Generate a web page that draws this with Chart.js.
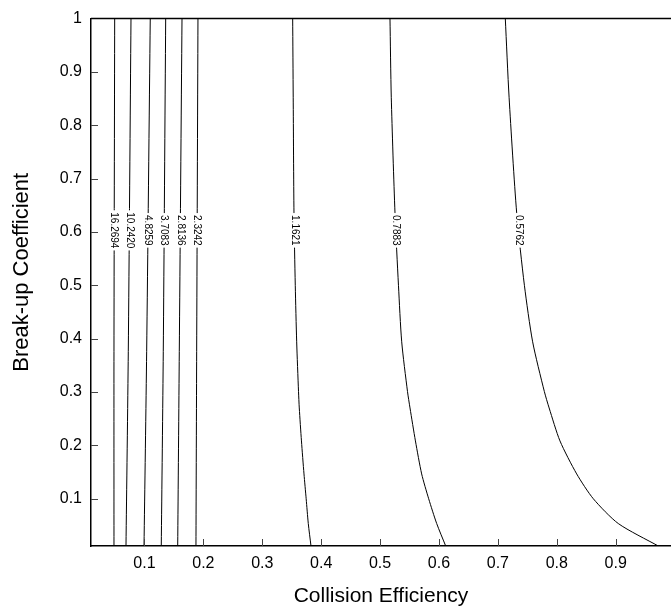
<!DOCTYPE html>
<html>
<head>
<meta charset="utf-8">
<script src="https://cdn.jsdelivr.net/npm/chart.js@4.4.0/dist/chart.umd.min.js"></script>
<style>
html,body{margin:0;padding:0;background:#fff;}
#wrap{width:671px;height:609px;position:relative;}
</style>
</head>
<body>
<div id="wrap"><canvas id="c" width="671" height="609"></canvas></div>
<script>
// Tick labels
const xTicks = [0.1, 0.2, 0.3, 0.4, 0.5, 0.6, 0.7, 0.8, 0.9];
const yTicks = [0.1, 0.2, 0.3, 0.4, 0.5, 0.6, 0.7, 0.8, 0.9, 1];

// Axis titles
const xTitle = 'Collision Efficiency';
const yTitle = 'Break-up Coefficient';

// Contour levels (labels)
const levels = ['16.2694', '10.2420', '4.8259', '3.7083', '2.8136', '2.3242', '1.1621', '0.7883', '0.5762'];

// Nearly straight contours: shared y samples
const yStraight = [0.0112, 0.3755, 1.0];
const x16_2694 = [0.0482, 0.0482, 0.0494];
const x10_2420 = [0.0686, 0.0725, 0.0771];
const x4_8259  = [0.0992, 0.1037, 0.1098];
const x3_7083  = [0.1285, 0.1319, 0.1360];
const x2_8136  = [0.1564, 0.1591, 0.1637];
const x2_3242  = [0.1874, 0.1886, 0.1908];

// Curved contours: shared y samples
const yCurve   = [0.0112, 0.0533, 0.0998, 0.1463, 0.2082, 0.2700, 0.3011, 0.3940, 0.5000, 0.6357, 0.8526, 1.0];
const x1_1621  = [0.3827, 0.3781, 0.3745, 0.3708, 0.3665, 0.3628, 0.3615, 0.3584, 0.3560, 0.3538, 0.3525, 0.3516];
const x0_7883  = [0.6114, 0.5961, 0.5825, 0.5706, 0.5600, 0.5508, 0.5465, 0.5367, 0.5312, 0.5253, 0.5190, 0.5168];
const x0_5762  = [0.9723, 0.9044, 0.8620, 0.8338, 0.8054, 0.7870, 0.7788, 0.7590, 0.7450, 0.7319, 0.7190, 0.7126];

const labelY = 0.603;

const contourXs = [x16_2694, x10_2420, x4_8259, x3_7083, x2_8136, x2_3242, x1_1621, x0_7883, x0_5762];
const contourYs = [yStraight, yStraight, yStraight, yStraight, yStraight, yStraight, yCurve, yCurve, yCurve];

const FONT = '"Liberation Sans", Arial, sans-serif';

const datasets = contourXs.map((xs, i) => ({
  label: levels[i],
  data: xs.map((x, j) => ({x: x, y: contourYs[i][j]})),
  showLine: true,
  borderColor: '#000',
  borderWidth: 1,
  pointRadius: 0,
  tension: 0.25,
  fill: false
}));

function xAtY(xs, ys, y) {
  for (let j = 0; j < ys.length - 1; j++) {
    if (y >= ys[j] && y <= ys[j + 1]) {
      const t = (y - ys[j]) / (ys[j + 1] - ys[j]);
      return xs[j] + t * (xs[j + 1] - xs[j]);
    }
  }
  return xs[xs.length - 1];
}

const decor = {
  id: 'decor',
  afterDatasetsDraw(chart) {
    const ctx = chart.ctx;
    const xs = chart.scales.x, ys = chart.scales.y;
    const a = chart.chartArea;
    ctx.save();
    // contour labels
    ctx.font = '10px ' + FONT;
    ctx.textAlign = 'center';
    ctx.textBaseline = 'middle';
    levels.forEach((lab, i) => {
      const xv = xAtY(contourXs[i], contourYs[i], labelY);
      const px = xs.getPixelForValue(xv);
      const py = ys.getPixelForValue(labelY);
      const w = ctx.measureText(lab).width;
      ctx.fillStyle = '#fff';
      ctx.fillRect(px - 6, py - w / 2 - 2, 12, w + 4);
      ctx.save();
      ctx.translate(px, py);
      ctx.rotate(Math.PI / 2);
      ctx.fillStyle = '#000';
      ctx.fillText(lab, 0, 0);
      ctx.restore();
    });
    // inward tick marks
    ctx.strokeStyle = '#444';
    ctx.lineWidth = 1;
    ctx.beginPath();
    xTicks.forEach(v => {
      const p = Math.round(xs.getPixelForValue(v)) + 0.5;
      ctx.moveTo(p, a.bottom);
      ctx.lineTo(p, a.bottom - 7);
    });
    yTicks.forEach(v => {
      if (v >= 1) return;
      const p = Math.round(ys.getPixelForValue(v)) + 0.5;
      ctx.moveTo(a.left, p);
      ctx.lineTo(a.left + 7, p);
    });
    ctx.stroke();
    // top border
    ctx.strokeStyle = '#000';
    ctx.lineWidth = 1.5;
    ctx.beginPath();
    ctx.moveTo(a.left, a.top);
    ctx.lineTo(a.right, a.top);
    ctx.stroke();
    // y axis title (slightly above the plot centre, as in the reference)
    ctx.save();
    ctx.font = '22px ' + FONT;
    ctx.fillStyle = '#000';
    ctx.textAlign = 'center';
    ctx.textBaseline = 'middle';
    ctx.translate(22, (a.top + a.bottom) / 2 - 10);
    ctx.rotate(-Math.PI / 2);
    ctx.fillText(yTitle, 0, 0);
    ctx.restore();
    ctx.restore();
  }
};

new Chart(document.getElementById('c'), {
  type: 'scatter',
  data: {datasets: datasets},
  options: {
    responsive: false,
    animation: false,
    events: [],
    layout: {padding: {top: 14, right: 0, left: 0, bottom: 0}},
    plugins: {legend: {display: false}, tooltip: {enabled: false}},
    scales: {
      x: {
        type: 'linear',
        min: 0.0092, max: 0.9939,
        afterBuildTicks: s => { s.ticks = xTicks.map(v => ({value: v})); },
        afterFit: s => { s.height = 63; },
        grid: {display: false, drawTicks: false},
        border: {display: true, color: '#000', width: 1.5},
        ticks: {color: '#000', padding: 8, font: {family: FONT, size: 16}, maxRotation: 0,
                callback: v => String(v)},
        title: {display: true, text: xTitle, color: '#000',
                font: {family: FONT, size: 21}, padding: {top: 4, bottom: 0}}
      },
      y: {
        type: 'linear',
        min: 0.0112, max: 1.0,
        afterBuildTicks: s => { s.ticks = yTicks.map(v => ({value: v})); },
        afterFit: s => { s.width = 91; },
        grid: {display: false, drawTicks: false},
        border: {display: true, color: '#000', width: 1.5},
        ticks: {color: '#000', padding: 9, font: {family: FONT, size: 16},
                callback: v => String(v)},
        title: {display: false}
      }
    }
  },
  plugins: [decor]
});
</script>
</body>
</html>
